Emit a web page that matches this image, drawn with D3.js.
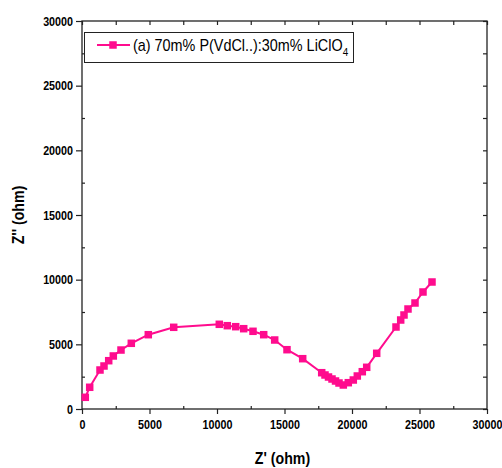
<!DOCTYPE html>
<html><head><meta charset="utf-8">
<script src="https://cdn.jsdelivr.net/npm/d3@7"></script>
<style>body{margin:0;background:#fff}svg{display:block}</style>
</head><body>
<svg id="c" width="502" height="468"></svg>
<script>
const zReal = [244,570,1333,1630,1978,2319,2889,3652,4911,6793,10170,10763,11385,11978,12667,13459,14274,15185,16348,17756,18000,18259,18519,18778,19037,19356,19726,20096,20393,20763,21089,21830,23259,23607,23852,24148,24667,25259,25926];
const zImag = [905,1680,3015,3325,3735,4100,4560,5080,5745,6317,6549,6441,6364,6209,6008,5745,5335,4585,3890,2807,2629,2474,2320,2165,2010,1856,2034,2242,2552,2884,3224,4307,6340,6881,7268,7732,8196,9047,9820];
const xTicks = [0,5000,10000,15000,20000,25000,30000];
const yTicks = [0,5000,10000,15000,20000,25000,30000];
const seriesName = "(a) 70m% P(VdCl..):30m% LiClO";
const seriesSub = "4";
const xTitle = "Z' (ohm)";
const yTitle = "Z'' (ohm)";

const color = "#ff0c8e";
const svg = d3.select("#c");
const L=82, R=487, T=21, B=409;
const x = d3.scaleLinear().domain([0,30000]).range([L,R]);
const y = d3.scaleLinear().domain([0,30000]).range([B,T]);
const minor = d3.range(0,30001,2500).filter(v=>v%5000!==0);
const font = "'Liberation Sans', Arial, sans-serif";
const SX = 0.86;

const g = svg.append("g");
g.append("rect").attr("x",L).attr("y",T).attr("width",R-L).attr("height",B-T)
 .attr("fill","none").attr("stroke","#222").attr("stroke-width",1.3);

g.append("g").attr("class","bx").attr("transform",`translate(0,${B})`)
  .call(d3.axisBottom(x).tickValues(xTicks).tickSize(5).tickPadding(6).tickFormat(d3.format("d")));
g.append("g").attr("class","ly").attr("transform",`translate(${L},0)`)
  .call(d3.axisLeft(y).tickValues(yTicks).tickSize(6).tickPadding(3).tickFormat(d3.format("d")));
g.append("g").attr("transform",`translate(0,${T})`)
  .call(d3.axisBottom(x).tickValues(xTicks.concat(minor)).tickSize(4).tickFormat(""));
g.append("g").attr("transform",`translate(${R},0)`)
  .call(d3.axisLeft(y).tickValues(yTicks.concat(minor)).tickSize(4).tickFormat(""));
g.append("g").attr("transform",`translate(0,${B})`)
  .call(d3.axisTop(x).tickValues(minor).tickSize(3).tickFormat(""));
g.append("g").attr("transform",`translate(${L},0)`)
  .call(d3.axisRight(y).tickValues(minor).tickSize(3).tickFormat(""));

g.selectAll(".domain").remove();
g.selectAll(".tick line").attr("stroke","#222").attr("stroke-width",1.2);
g.selectAll(".tick text").attr("font-family",font).attr("font-weight","bold")
 .attr("font-size",12.5).attr("fill","#000");
// condense tick labels horizontally around their anchor
g.selectAll(".bx .tick text").attr("transform",`scale(${SX},1)`);
g.selectAll(".ly .tick text").each(function(){
  const t=d3.select(this); const xx=+t.attr("x");
  t.attr("x",0).attr("transform",`translate(${xx},0) scale(${SX},1)`);
});

function condensedText(px,py,rot,str,size,weight){
  return svg.append("g").attr("transform",`translate(${px},${py}) rotate(${rot}) scale(${SX},1)`)
   .append("text").attr("text-anchor","middle").attr("font-family",font)
   .attr("font-weight",weight).attr("font-size",size).text(str);
}
condensedText((L+R)/2-2,464,0,xTitle,16.5,"bold");
condensedText(24,(T+B)/2,-90,yTitle,16.5,"bold");

const pts = zReal.map((v,i)=>[v,zImag[i]]);
const line = d3.line().x(d=>x(d[0])).y(d=>y(d[1]));
svg.append("path").datum(pts).attr("d",line).attr("fill","none")
 .attr("stroke",color).attr("stroke-width",2);
const ms = 7.5;
svg.selectAll("rect.m").data(pts).enter().append("rect").attr("class","m")
 .attr("x",d=>x(d[0])-ms/2).attr("y",d=>y(d[1])-ms/2).attr("width",ms).attr("height",ms)
 .attr("fill",color);

const lg = svg.append("g");
lg.append("rect").attr("x",84.5).attr("y",32.5).attr("width",269).attr("height",30)
 .attr("fill","#fff").attr("stroke","#222").attr("stroke-width",1);
lg.append("line").attr("x1",97).attr("x2",130).attr("y1",45).attr("y2",45)
 .attr("stroke",color).attr("stroke-width",2);
lg.append("rect").attr("x",113-ms/2).attr("y",45-ms/2).attr("width",ms).attr("height",ms).attr("fill",color);
const lt = lg.append("g").attr("transform",`translate(133,51) scale(0.9,1)`)
 .append("text").attr("x",0).attr("y",0).attr("font-family",font)
 .attr("font-size",16).attr("fill","#000");
lt.append("tspan").text(seriesName);
lt.append("tspan").attr("dy",5).attr("font-size",11).text(seriesSub);
</script>
</body></html>
